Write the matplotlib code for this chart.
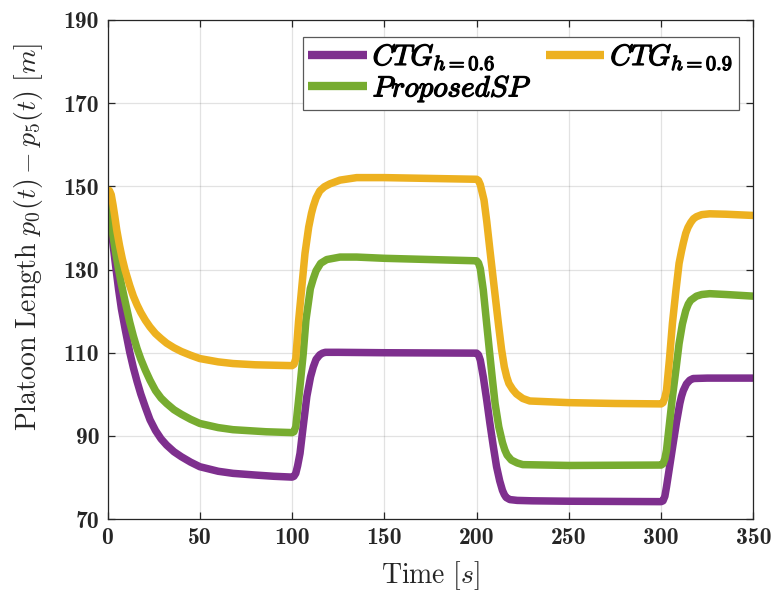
import matplotlib
matplotlib.use("Agg")
import matplotlib.pyplot as plt
import matplotlib.patheffects as pe
from matplotlib.ticker import FixedLocator

plt.rcParams['mathtext.fontset'] = 'cm'

# ---- data ----
t_p = [0, 1.5, 3, 4.5, 6, 7.5, 9.5, 12, 14, 16, 18, 20.5, 23, 26, 29, 32, 36, 40, 45, 50, 60, 68,
       80, 90, 100, 101, 102, 103, 104.3, 106, 108, 110, 111.5, 113, 115, 116.5, 118, 125, 150,
       200, 201, 202, 203.6, 205.5, 207.2, 209, 210.8, 212.5, 214, 215, 216, 218, 222, 230, 250,
       300, 301, 302, 302.9, 304.7, 306.5, 308.3, 310.1, 311, 312, 313.7, 315.5, 317.3, 325, 350]
ctg06 = [148.5, 142, 136, 130.5, 125.2, 120.6, 115.8, 110.2, 106.4, 103.1, 100.1, 96.9, 93.9,
         91.3, 89.3, 87.8, 86.2, 85, 83.7, 82.6, 81.5, 81, 80.6, 80.3, 80.1, 80.3, 81, 82.8, 85.8,
         92.2, 99.5, 104.2, 106.6, 108.4, 109.5, 109.9, 110.1, 110.1, 110, 109.9, 109.5, 108.2,
         104.2, 98.5, 93, 87.6, 82.6, 79.2, 76.9, 75.9, 75.2, 74.7, 74.5, 74.4, 74.3, 74.2, 74.4,
         75.5, 77.8, 83, 88.2, 93.3, 97.8, 99.5, 100.9, 102.5, 103.4, 103.8, 103.9, 103.9]

t_y = [0, 1, 2, 3, 4, 5, 6.5, 8, 9.5, 12, 14, 16, 18, 20.5, 23, 26, 29, 32, 36, 40, 45, 50, 60,
       68, 80, 90, 100, 101, 102, 103.5, 105, 107, 109, 110.5, 111.5, 113, 115, 117.5, 120.5,
       126, 135, 150, 175, 200, 201, 202, 204, 205.5, 207.2, 208.8, 210.3, 212, 213.5, 215,
       216.3, 217.5, 219.5, 221.6, 225, 228.8, 250, 275, 300, 301, 302, 302.9, 304.5, 306.1, 308,
       309.7, 311, 312, 313.3, 314.5, 316, 317.5, 319.1, 322, 326.3, 335, 350]
ctg09 = [148.5, 149, 148, 145.5, 142.6, 139.5, 135.8, 132.6, 129.9, 126.2, 123.6, 121.5, 119.7,
         117.8, 116.2, 114.6, 113.4, 112.3, 111.2, 110.3, 109.4, 108.6, 107.8, 107.4, 107.1, 107,
         106.9, 107.2, 108.5, 117.5, 124.5, 133.9, 140.2, 143.5, 145.2, 147.2, 148.9, 149.9, 150.6,
         151.5, 152.1, 152.1, 151.9, 151.7, 151.4, 150.4, 146.7, 141.5, 134.7, 128.5, 122.7, 116.2,
         110.8, 106.6, 104.2, 102.6, 101.2, 100.1, 99, 98.4, 98, 97.8, 97.7, 98, 99.2, 101, 108.5,
         117.1, 125, 131.5, 134.4, 136.4, 138.7, 140.1, 141.3, 142.2, 142.7, 143.2, 143.4, 143.3, 143]

t_g = [0, 1.5, 3, 4.5, 6, 7.5, 9.5, 12, 14, 16, 18, 20.5, 23, 26, 29, 32, 36, 40, 45, 50, 60, 68,
       86, 100, 101, 102, 104, 106, 107.5, 109.9, 111.5, 113, 115.5, 118.8, 126, 135, 150, 175,
       200, 201, 202, 203.6, 205.3, 206.9, 208.5, 210, 212, 214, 215.3, 216.5, 218.8, 222, 225,
       250, 300, 301, 302, 302.9, 304.5, 306.1, 308, 309.7, 311.5, 313.3, 314.7, 316, 319.1,
       322, 326.3, 335, 350]
proposed = [148.5, 142.5, 138, 133.8, 130, 126.5, 122.4, 117.4, 114, 111, 108.5, 105.8, 103.4,
            100.9, 99.1, 97.8, 96.3, 95.2, 94, 93, 92, 91.5, 91, 90.8, 91, 92.2, 100.6, 109.6,
            117.8, 125.4, 127.8, 129.7, 131.5, 132.4, 133, 133, 132.7, 132.4, 132.1, 131.6, 130.2,
            125.1, 117.6, 110.6, 103.8, 97.8, 92.2, 88.4, 86.6, 85.4, 84.2, 83.5, 83.1, 82.9, 83,
            83.3, 84.5, 86.6, 93, 99.4, 106, 112.2, 116.9, 120.1, 121.7, 122.6, 123.6, 124, 124.2,
            124, 123.6]

x_ticks = [0, 50, 100, 150, 200, 250, 300, 350]
y_ticks = [70, 90, 110, 130, 150, 170, 190]

purple = (0.494, 0.184, 0.556)
yellow = (0.929, 0.694, 0.125)
green = (0.466, 0.674, 0.188)
dark = (0.15, 0.15, 0.15)

fig = plt.figure(figsize=(7.82, 5.96), dpi=100)
ax = fig.add_axes([0.1375, 0.129, 0.826, 0.8375])

lw = 5.4
ax.plot(t_p, ctg06, color=purple, lw=lw, solid_joinstyle='round', solid_capstyle='butt',
        label=r'$CTG_{h{=}0.6}$')
ax.plot(t_g, proposed, color=green, lw=lw, solid_joinstyle='round', solid_capstyle='butt',
        label=r'$ProposedSP$')
ax.plot(t_y, ctg09, color=yellow, lw=lw, solid_joinstyle='round', solid_capstyle='butt',
        label=r'$CTG_{h{=}0.9}$')

ax.set_xlim(0, 350)
ax.set_ylim(70, 190)
ax.xaxis.set_major_locator(FixedLocator(x_ticks))
ax.yaxis.set_major_locator(FixedLocator(y_ticks))
ax.grid(True, color=(0.15, 0.15, 0.15), alpha=0.13, lw=0.9)
ax.tick_params(direction='in', length=5, width=0.9, top=True, right=True, colors=dark,
               labelsize=17, pad=6)
for lab in ax.get_xticklabels() + ax.get_yticklabels():
    lab.set_fontfamily('cmb10')
for s in ax.spines.values():
    s.set_color(dark)
    s.set_linewidth(0.9)

ax.set_xlabel(r'$\mathrm{Time}\ [s]$', fontsize=20, color=dark, labelpad=7)
ax.set_ylabel(r'$\mathrm{Platoon\ Length}\ p_0(t) - p_5(t)\ [m]$', fontsize=20, color=dark)
ax.yaxis.set_label_coords(-0.097, 0.565)

leg = ax.legend(loc='upper right', bbox_to_anchor=(0.9775, 0.966), ncol=2, fontsize=21,
                frameon=True, fancybox=False, framealpha=1, edgecolor=(0.35, 0.35, 0.35),
                handlelength=2.0, handletextpad=0.2, columnspacing=0.5, borderpad=0.2,
                labelspacing=0.05, borderaxespad=0)
leg.get_frame().set_linewidth(0.9)
for txt in leg.get_texts():
    txt.set_path_effects([pe.withStroke(linewidth=0.9, foreground='black')])
for h in leg.get_lines():
    h.set_linewidth(6)

fig.savefig('out.png', dpi=100)
